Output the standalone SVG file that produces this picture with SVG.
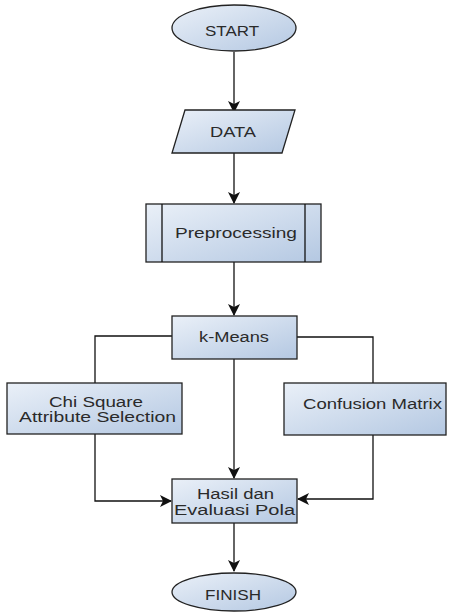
<svg xmlns="http://www.w3.org/2000/svg" width="449" height="613" viewBox="0 0 449 613">
<defs>
<linearGradient id="g" x1="0" y1="0" x2="1" y2="1">
<stop offset="0" stop-color="#eaf0f8"/>
<stop offset="1" stop-color="#b4c8e2"/>
</linearGradient>
<marker id="arr" viewBox="0 0 12 12" refX="11" refY="6" markerWidth="12" markerHeight="12" markerUnits="userSpaceOnUse" orient="auto">
<path d="M0,0 L12,6 L0,12 L3,6 Z" fill="#111"/>
</marker>
<style>
.n{fill:url(#g);stroke:#222;stroke-width:1.3}
.t{font-family:"Liberation Sans",Arial,sans-serif;font-size:14px;fill:#2a2a2a}
.c{fill:none;stroke:#111;stroke-width:1.3}
</style>
</defs>
<rect width="449" height="613" fill="#fff"/>
<g id="connectors">
<path class="c" d="M234,52 L234,112" marker-end="url(#arr)"/>
<path class="c" d="M234,153 L234,203" marker-end="url(#arr)"/>
<path class="c" d="M234,262 L234,315" marker-end="url(#arr)"/>
<path class="c" d="M172,336 L95,336 L95,383"/>
<path class="c" d="M297,337 L373,337 L373,383"/>
<path class="c" d="M234,359 L234,478" marker-end="url(#arr)"/>
<path class="c" d="M95,434 L95,501 L171,501" marker-end="url(#arr)"/>
<path class="c" d="M373,435 L373,499 L298,499" marker-end="url(#arr)"/>
<path class="c" d="M234,523 L234,571" marker-end="url(#arr)"/>
</g>
<g id="start">
<ellipse class="n" cx="234" cy="28" rx="62" ry="23"/>
<text class="t" x="205" y="36" textLength="54" lengthAdjust="spacingAndGlyphs">START</text>
</g>
<g id="data">
<polygon class="n" points="185,110 295,110 282,153 172,153"/>
<text class="t" x="210" y="137" textLength="46" lengthAdjust="spacingAndGlyphs">DATA</text>
</g>
<g id="preprocessing">
<rect class="n" x="146" y="204" width="175" height="58"/>
<line class="c" x1="162" y1="204" x2="162" y2="262"/>
<line class="c" x1="305" y1="204" x2="305" y2="262"/>
<text class="t" x="175" y="238" textLength="122" lengthAdjust="spacingAndGlyphs">Preprocessing</text>
</g>
<g id="kmeans">
<rect class="n" x="172" y="316" width="125" height="43"/>
<text class="t" x="199" y="342" textLength="70" lengthAdjust="spacingAndGlyphs">k-Means</text>
</g>
<g id="chisquare">
<rect class="n" x="7" y="383" width="175" height="51"/>
<text class="t" x="49" y="407" textLength="94" lengthAdjust="spacingAndGlyphs">Chi Square</text>
<text class="t" x="19" y="422" textLength="157" lengthAdjust="spacingAndGlyphs">Attribute Selection</text>
</g>
<g id="confusion">
<rect class="n" x="284" y="383" width="162" height="52"/>
<text class="t" x="303" y="409" textLength="139" lengthAdjust="spacingAndGlyphs">Confusion Matrix</text>
</g>
<g id="hasil">
<rect class="n" x="172" y="479" width="125" height="44"/>
<text class="t" x="197" y="499" textLength="77" lengthAdjust="spacingAndGlyphs">Hasil dan</text>
<text class="t" x="174" y="515" textLength="121" lengthAdjust="spacingAndGlyphs">Evaluasi Pola</text>
</g>
<g id="finish">
<ellipse class="n" cx="234" cy="592" rx="62" ry="19"/>
<text class="t" x="205" y="600" textLength="56" lengthAdjust="spacingAndGlyphs">FINISH</text>
</g>
</svg>
